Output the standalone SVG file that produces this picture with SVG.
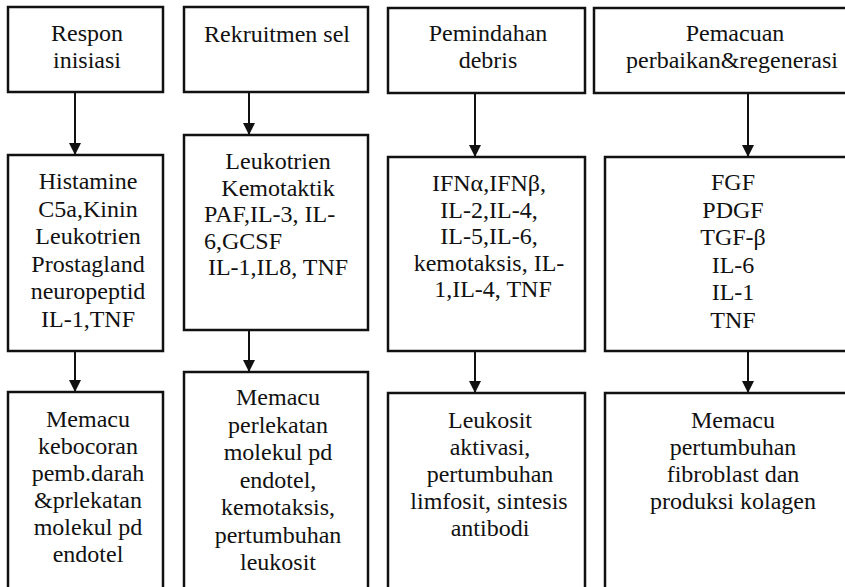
<svg xmlns="http://www.w3.org/2000/svg" width="845" height="587" viewBox="0 0 845 587">
<style>
.box{fill:#fff;stroke:#111;stroke-width:2.5}
.con{stroke:#111;stroke-width:2;fill:none}
text{font-size:24px;fill:#111;text-anchor:middle}
.l{text-anchor:start}
</style>
<defs>
<marker id="ah" viewBox="0 0 12 12" refX="12" refY="6" markerWidth="12" markerHeight="13" markerUnits="userSpaceOnUse" orient="auto">
<path d="M0,0 L12,6 L0,12 z" fill="#111"/>
</marker>
</defs>
<rect width="845" height="587" fill="#fff"/>
<g id="connectors">
<line class="con" x1="75" y1="92" x2="75" y2="155" marker-end="url(#ah)"/>
<line class="con" x1="75" y1="351" x2="75" y2="392" marker-end="url(#ah)"/>
<line class="con" x1="249" y1="92" x2="249" y2="135" marker-end="url(#ah)"/>
<line class="con" x1="249" y1="330" x2="249" y2="372" marker-end="url(#ah)"/>
<line class="con" x1="475" y1="93" x2="475" y2="157" marker-end="url(#ah)"/>
<line class="con" x1="475" y1="351" x2="475" y2="393" marker-end="url(#ah)"/>
<line class="con" x1="748" y1="93" x2="748" y2="157" marker-end="url(#ah)"/>
<line class="con" x1="748" y1="351" x2="748" y2="393" marker-end="url(#ah)"/>
</g>
<g font-family="Liberation Serif, Times New Roman, DejaVu Serif, serif">
<g id="top1"><rect class="box" x="8" y="7" width="155" height="85"/>
<text x="87" y="41">Respon</text><text x="87" y="68">inisiasi</text></g>
<g id="top2"><rect class="box" x="184" y="7" width="184" height="85"/>
<text x="277" y="42">Rekruitmen sel</text></g>
<g id="top3"><rect class="box" x="388" y="8" width="197" height="85"/>
<text x="488" y="41">Pemindahan</text><text x="488" y="68">debris</text></g>
<g id="top4"><rect class="box" x="594" y="8" width="280" height="85"/>
<text x="735" y="41">Pemacuan</text><text x="732" y="68">perbaikan&amp;regenerasi</text></g>

<g id="mid1"><rect class="box" x="8" y="155" width="155" height="196"/>
<text x="88" y="189">Histamine</text><text x="88" y="216.5">C5a,Kinin</text><text x="88" y="244">Leukotrien</text><text x="88" y="271.5">Prostagland</text><text x="88" y="299">neuropeptid</text><text x="88" y="326.5">IL-1,TNF</text></g>
<g id="mid2"><rect class="box" x="184" y="135" width="184" height="195"/>
<text x="278" y="169">Leukotrien</text><text x="278" y="195.5">Kemotaktik</text><text class="l" x="204" y="222">PAF,IL-3, IL-</text><text class="l" x="204" y="248.5">6,GCSF</text><text x="278" y="275">IL-1,IL8, TNF</text></g>
<g id="mid3"><rect class="box" x="388" y="157" width="197" height="194"/>
<text x="489" y="191">IFNα,IFNβ,</text><text x="489" y="217.5">IL-2,IL-4,</text><text x="489" y="244">IL-5,IL-6,</text><text x="489" y="270.5">kemotaksis, IL-</text><text x="493" y="297">1,IL-4, TNF</text></g>
<g id="mid4"><rect class="box" x="605" y="157" width="270" height="194"/>
<text x="733" y="190">FGF</text><text x="733" y="217.5">PDGF</text><text x="733" y="245">TGF-β</text><text x="733" y="272.5">IL-6</text><text x="733" y="300">IL-1</text><text x="733" y="327.5">TNF</text></g>

<g id="bot1"><rect class="box" x="8" y="392" width="155" height="210"/>
<text x="88" y="427">Memacu</text><text x="88" y="454">kebocoran</text><text x="88" y="481">pemb.darah</text><text x="88" y="508">&amp;prlekatan</text><text x="88" y="535">molekul pd</text><text x="88" y="562">endotel</text></g>
<g id="bot2"><rect class="box" x="184" y="372" width="184" height="230"/>
<text x="278" y="405">Memacu</text><text x="278" y="432.5">perlekatan</text><text x="278" y="460">molekul pd</text><text x="278" y="487.5">endotel,</text><text x="278" y="515">kemotaksis,</text><text x="278" y="542.5">pertumbuhan</text><text x="278" y="570">leukosit</text></g>
<g id="bot3"><rect class="box" x="388" y="393" width="197" height="210"/>
<text x="490" y="428">Leukosit</text><text x="490" y="455">aktivasi,</text><text x="490" y="482">pertumbuhan</text><text x="489" y="509">limfosit, sintesis</text><text x="490" y="536">antibodi</text></g>
<g id="bot4"><rect class="box" x="605" y="393" width="270" height="210"/>
<text x="733" y="428">Memacu</text><text x="733" y="455">pertumbuhan</text><text x="733" y="482">fibroblast dan</text><text x="733" y="509">produksi kolagen</text></g>
</g>
</svg>
